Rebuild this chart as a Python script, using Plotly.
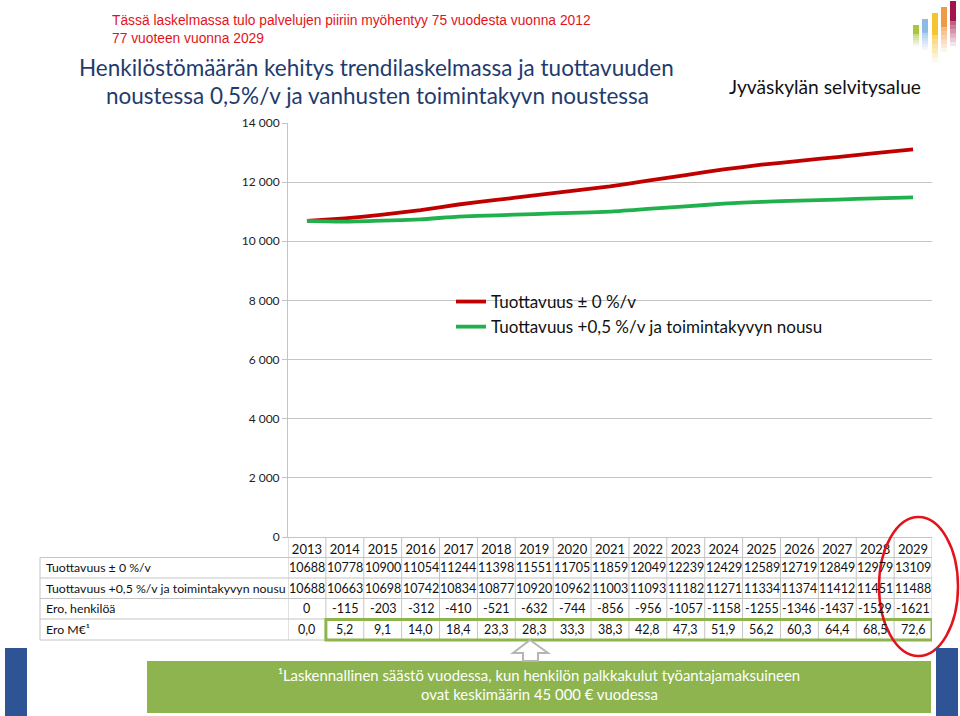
import plotly.graph_objects as go

# ---------------- data ----------------
years = [str(y) for y in range(2013, 2030)]
tuottavuus_0 = [10688, 10778, 10900, 11054, 11244, 11398, 11551, 11705, 11859,
                12049, 12239, 12429, 12589, 12719, 12849, 12979, 13109]
tuottavuus_05 = [10688, 10663, 10698, 10742, 10834, 10877, 10920, 10962, 11003,
                 11093, 11182, 11271, 11334, 11374, 11412, 11451, 11488]
ero_henkiloa = [0, -115, -203, -312, -410, -521, -632, -744, -856, -956,
                -1057, -1158, -1255, -1346, -1437, -1529, -1621]
ero_meur = [0.0, 5.2, 9.1, 14.0, 18.4, 23.3, 28.3, 33.3, 38.3, 42.8,
            47.3, 51.9, 56.2, 60.3, 64.4, 68.5, 72.6]
series_names = ["Tuottavuus ± 0 %/v", "Tuottavuus +0,5 %/v ja toimintakyvyn nousu"]
row_labels = ["Tuottavuus ± 0 %/v", "Tuottavuus +0,5 %/v ja toimintakyvyn nousu",
              "Ero, henkilöä", "Ero M€¹"]
y_ticks = [0, 2000, 4000, 6000, 8000, 10000, 12000, 14000]

# ---------------- helpers ----------------
W, H = 960, 716


def px(x):
    return x / W


def py(y):
    return 1 - y / H


FONT = "Lato"
GRID = "#c4c4c4"

fig = go.Figure()
fig.add_trace(go.Scatter(x=years, y=tuottavuus_0, mode="lines", name=series_names[0],
                         line=dict(color="#c00000", width=3.8, shape="spline", smoothing=0.5)))
fig.add_trace(go.Scatter(x=years, y=tuottavuus_05, mode="lines", name=series_names[1],
                         line=dict(color="#20b04c", width=3.8, shape="spline", smoothing=0.5)))

shapes = []
annotations = []

# ---- table grid ----
row_lines = [557.5, 578, 598.5, 619, 640]
for yl in row_lines:
    shapes.append(dict(type="line", xref="paper", yref="paper", x0=px(40), x1=px(932),
                       y0=py(yl), y1=py(yl), line=dict(color=GRID, width=1)))
shapes.append(dict(type="line", xref="paper", yref="paper", x0=px(40), x1=px(40),
                   y0=py(557.5), y1=py(640), line=dict(color=GRID, width=1)))
for i in range(len(years) + 1):
    shapes.append(dict(type="line", xref="x", yref="paper", x0=i - 0.5, x1=i - 0.5,
                       y0=py(537), y1=py(640), line=dict(color=GRID, width=1)))

# ---- table values ----
row_centers = [567.5, 588, 608.5, 629.5]
row_values = [
    [str(v) for v in tuottavuus_0],
    [str(v) for v in tuottavuus_05],
    [str(v) for v in ero_henkiloa],
    [f"{v:.1f}".replace(".", ",") for v in ero_meur],
]
for lab, yc, vals in zip(row_labels, row_centers, row_values):
    annotations.append(dict(x=px(44), y=py(yc), xref="paper", yref="paper", text=lab,
                            showarrow=False, xanchor="left", yanchor="middle",
                            font=dict(family=FONT, size=12.3, color="#111")))
    for i, v in enumerate(vals):
        annotations.append(dict(x=i, y=py(yc), xref="x", yref="paper", text=v,
                                showarrow=False, xanchor="center", yanchor="middle",
                                font=dict(family=FONT, size=12.5, color="#111")))

# green highlight around Ero M€ values
shapes.append(dict(type="rect", xref="x", yref="paper", x0=0.5, x1=16.5,
                   y0=py(640), y1=py(619.5), line=dict(color="#8db54b", width=3)))

# red ellipse around 2029
shapes.append(dict(type="circle", xref="paper", yref="paper", x0=px(879), x1=px(958),
                   y0=py(656), y1=py(517), line=dict(color="#e3131b", width=2.5)))

# grey outlined arrow
arrow_pts = [(530, 640), (548, 653), (538, 653), (538, 661), (523, 661), (523, 653), (513, 653)]
path = "M " + " L ".join(f"{px(a):.5f},{py(b):.5f}" for a, b in arrow_pts) + " Z"
shapes.append(dict(type="path", xref="paper", yref="paper", path=path,
                   fillcolor="white", line=dict(color="#b5b5b5", width=2)))

# green footnote box
shapes.append(dict(type="rect", xref="paper", yref="paper", x0=px(147), x1=px(931),
                   y0=py(713), y1=py(661), fillcolor="#8db44e", line=dict(width=0), layer="below"))
annotations.append(dict(x=px(539), y=py(675), xref="paper", yref="paper",
                        text="¹Laskennallinen säästö vuodessa, kun henkilön palkkakulut työantajamaksuineen",
                        showarrow=False, xanchor="center", yanchor="middle",
                        font=dict(family=FONT, size=14.9, color="white")))
annotations.append(dict(x=px(539), y=py(694), xref="paper", yref="paper",
                        text="ovat keskimäärin 45 000 € vuodessa",
                        showarrow=False, xanchor="center", yanchor="middle",
                        font=dict(family=FONT, size=14.9, color="white")))

# blue side blocks
for x0, x1 in [(5, 27), (936, 958)]:
    shapes.append(dict(type="rect", xref="paper", yref="paper", x0=px(x0), x1=px(x1),
                       y0=py(716), y1=py(648), fillcolor="#2f5496", line=dict(width=0)))

# logo bars (fading downward)
logo = [(913, 25, 46, "#a9c73b"), (922, 19, 50, "#8cbbe6"), (932, 13, 62, "#f4c431"),
        (941, 7, 52, "#ef9a45"), (950, 1, 46, "#a3154a")]
for x0, top, bot, col in logo:
    solid = top + (bot - top) * 0.45
    shapes.append(dict(type="rect", xref="paper", yref="paper", x0=px(x0), x1=px(x0 + 6),
                       y0=py(solid), y1=py(top), fillcolor=col, line=dict(width=0)))
    n = 6
    step = (bot - solid) / n
    for k in range(n):
        shapes.append(dict(type="rect", xref="paper", yref="paper", x0=px(x0), x1=px(x0 + 6),
                           y0=py(solid + step * (k + 1)), y1=py(solid + step * k),
                           fillcolor=col, opacity=0.8 * (1 - (k + 1) / (n + 1)), line=dict(width=0)))

# ---- header texts ----
annotations.append(dict(x=px(110), y=py(20), xref="paper", yref="paper",
                        text="Tässä laskelmassa tulo palvelujen piiriin myöhentyy 75 vuodesta vuonna 2012",
                        showarrow=False, xanchor="left", yanchor="middle",
                        font=dict(family="Liberation Sans", size=13.8, color="#e3131b")))
annotations.append(dict(x=px(110), y=py(38), xref="paper", yref="paper",
                        text="77 vuoteen vuonna 2029",
                        showarrow=False, xanchor="left", yanchor="middle",
                        font=dict(family="Liberation Sans", size=13.8, color="#e3131b")))
annotations.append(dict(x=px(376), y=py(68), xref="paper", yref="paper",
                        text="Henkilöstömäärän kehitys trendilaskelmassa ja tuottavuuden",
                        showarrow=False, xanchor="center", yanchor="middle",
                        font=dict(family=FONT, size=22.5, color="#1f3b6e")))
annotations.append(dict(x=px(377), y=py(96), xref="paper", yref="paper",
                        text="noustessa 0,5%/v ja vanhusten toimintakyvn noustessa",
                        showarrow=False, xanchor="center", yanchor="middle",
                        font=dict(family=FONT, size=22.5, color="#1f3b6e")))
annotations.append(dict(x=px(727), y=py(87), xref="paper", yref="paper",
                        text="Jyväskylän selvitysalue",
                        showarrow=False, xanchor="left", yanchor="middle",
                        font=dict(family=FONT, size=19.2, color="#111")))

fig.update_layout(
    width=W, height=H, autosize=False,
    margin=dict(l=0, r=0, t=0, b=0, pad=0, autoexpand=False),
    paper_bgcolor="white", plot_bgcolor="white",
    separators=", ",
    showlegend=True,
    legend=dict(x=px(451), y=py(284), xanchor="left", yanchor="top",
                bgcolor="rgba(0,0,0,0)", font=dict(family=FONT, size=17, color="#111"),
                tracegroupgap=0, itemwidth=30),
    xaxis=dict(type="category", range=[-0.5, 16.5], domain=[px(288), px(932)],
               automargin=False,
               showgrid=False, showline=True, linecolor=GRID, linewidth=1,
               ticks="", tickfont=dict(family=FONT, size=13, color="#111"), zeroline=False),
    yaxis=dict(range=[0, 14000], domain=[py(537), py(123)], tickvals=y_ticks,
               automargin=False,
               tickformat=",d", showgrid=True, gridcolor=GRID, gridwidth=1,
               showline=True, linecolor=GRID, linewidth=1, ticks="outside", ticklen=5,
               tickcolor=GRID, tickfont=dict(family=FONT, size=12, color="#222"),
               zeroline=False),
    shapes=shapes,
    annotations=annotations,
)

fig.write_html(
    "out.html",
    config={"displayModeBar": False},
    post_script=("document.documentElement.style.margin='0';"
                 "document.body.style.margin='0';"
                 "document.documentElement.style.overflow='hidden';"
                 "document.body.style.overflow='hidden';"),
)
